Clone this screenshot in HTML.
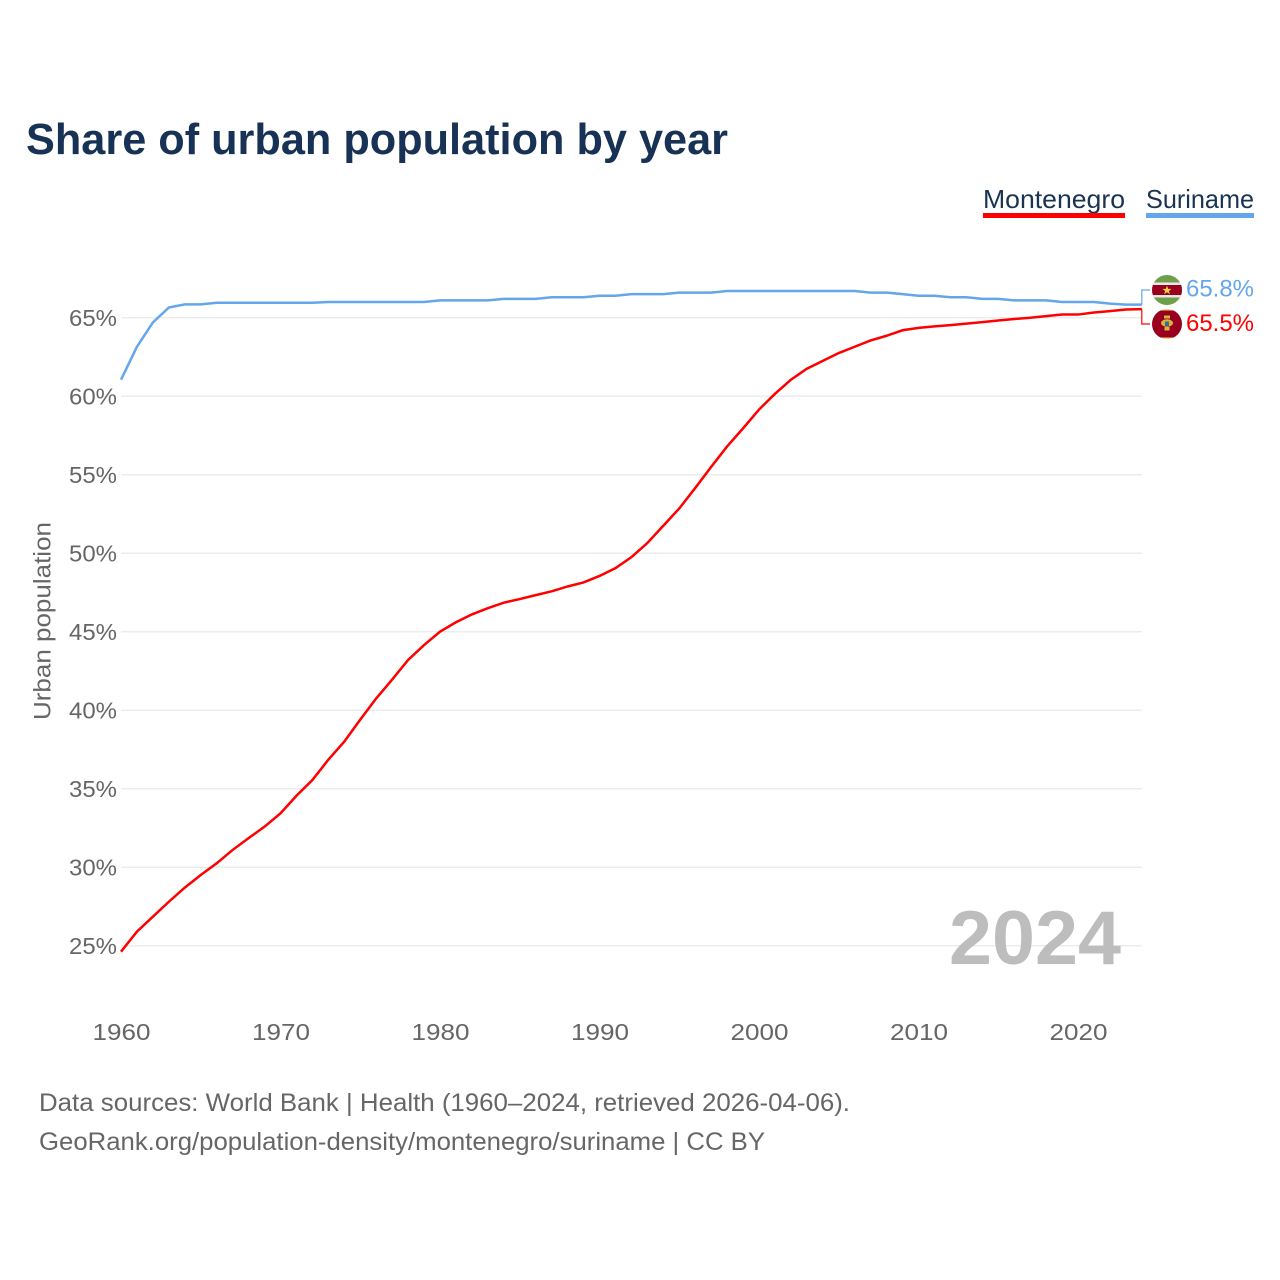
<!DOCTYPE html>
<html lang="en">
<head>
<meta charset="utf-8">
<title>Share of urban population by year</title>
<style>
html,body{margin:0;padding:0;background:#fff;}
svg{display:block;font-family:"Liberation Sans",sans-serif;}
.tick{font-size:23.5px;fill:#666;}
</style>
</head>
<body>
<svg id="chart" width="1280" height="1280" viewBox="0 0 1280 1280" xmlns="http://www.w3.org/2000/svg">
  <rect width="1280" height="1280" fill="#fff"/>
  <text x="26" y="154" font-size="43.500" font-weight="700" fill="#173254" textLength="702" lengthAdjust="spacingAndGlyphs">Share of urban population by year</text>

  <g>
    <text x="983" y="208" font-size="26" fill="#1a3353" textLength="142" lengthAdjust="spacingAndGlyphs">Montenegro</text>
    <rect x="983" y="213" width="142" height="5" fill="#ff0000"/>
  </g>
  <g>
    <text x="1146" y="208" font-size="26" fill="#1a3353" textLength="108" lengthAdjust="spacingAndGlyphs">Suriname</text>
    <rect x="1146" y="213" width="108" height="5" fill="#63a6ec"/>
  </g>

  <g id="grid"></g>
  <g id="yticks"></g>
  <g id="xticks"></g>
  <text transform="translate(50.500,720) rotate(-90)" font-size="24" fill="#666" textLength="198" lengthAdjust="spacingAndGlyphs">Urban population</text>

  <text x="949" y="964" font-size="76" font-weight="700" fill="#bdbdbd" textLength="172" lengthAdjust="spacingAndGlyphs">2024</text>

  <g id="series"></g>

  <path id="conn-sr" fill="none" stroke="#63a6ec" stroke-width="1.2"/>
  <path id="conn-me" fill="none" stroke="#ff0000" stroke-width="1.2"/>

  <defs>
    <clipPath id="clip-sr"><circle cx="1167" cy="290" r="15"/></clipPath>
    <clipPath id="clip-me"><circle cx="1167" cy="324" r="15"/></clipPath>
  </defs>
  <g clip-path="url(#clip-sr)">
    <rect x="1152" y="275" width="30" height="30" fill="#6f9f4a"/>
    <rect x="1152" y="282.500" width="30" height="15" fill="#e8e8e8"/>
    <rect x="1152" y="285" width="30" height="10" fill="#99001f"/>
    <polygon points="1167,285.600 1168.200,288.900 1171.700,288.900 1168.900,291 1169.900,294.300 1167,292.300 1164.100,294.300 1165.100,291 1162.300,288.900 1165.800,288.900" fill="#f2cf4a"/>
  </g>
  <g clip-path="url(#clip-me)">
    <rect x="1152" y="309" width="30" height="30" fill="#f2cf6a"/>
    <rect x="1152" y="310.500" width="30" height="27" fill="#99001f"/>
    <rect x="1164" y="315.500" width="6" height="3" fill="#d8b23c"/>
    <ellipse cx="1167" cy="323" rx="6" ry="3.800" fill="#d8b23c"/>
    <rect x="1165" y="321.500" width="4" height="4.500" fill="#2f6f9f"/>
    <rect x="1164.500" y="327" width="5" height="3.500" fill="#d8b23c"/>
  </g>
  <text x="1186" y="296.500" font-size="24.500" fill="#63a6ec" textLength="68" lengthAdjust="spacingAndGlyphs">65.8%</text>
  <text x="1186" y="331" font-size="24.500" fill="#ff0000" textLength="68" lengthAdjust="spacingAndGlyphs">65.5%</text>

  <text x="39" y="1111" font-size="25" fill="#666" textLength="811" lengthAdjust="spacingAndGlyphs">Data sources: World Bank | Health (1960–2024, retrieved 2026-04-06).</text>
  <text x="39" y="1150" font-size="25" fill="#666" textLength="726" lengthAdjust="spacingAndGlyphs">GeoRank.org/population-density/montenegro/suriname | CC BY</text>
</svg>
<script>
const years = [1960,1961,1962,1963,1964,1965,1966,1967,1968,1969,1970,1971,1972,1973,1974,1975,1976,1977,1978,1979,1980,1981,1982,1983,1984,1985,1986,1987,1988,1989,1990,1991,1992,1993,1994,1995,1996,1997,1998,1999,2000,2001,2002,2003,2004,2005,2006,2007,2008,2009,2010,2011,2012,2013,2014,2015,2016,2017,2018,2019,2020,2021,2022,2023,2024];
const surinameValues = [61.05,63.15,64.7,65.65,65.85,65.85,65.95,65.95,65.95,65.95,65.95,65.95,65.95,66.0,66.0,66.0,66.0,66.0,66.0,66.0,66.1,66.1,66.1,66.1,66.2,66.2,66.2,66.3,66.3,66.3,66.4,66.4,66.5,66.5,66.5,66.6,66.6,66.6,66.7,66.7,66.7,66.7,66.7,66.7,66.7,66.7,66.7,66.6,66.6,66.5,66.4,66.4,66.3,66.3,66.2,66.2,66.1,66.1,66.1,66.0,66.0,66.0,65.9,65.83,65.83];
const montenegroValues = [24.62,25.9,26.85,27.8,28.7,29.5,30.25,31.1,31.85,32.58,33.43,34.55,35.55,36.85,38.0,39.4,40.75,41.95,43.2,44.15,45.0,45.6,46.1,46.5,46.85,47.08,47.33,47.57,47.88,48.14,48.55,49.05,49.75,50.65,51.75,52.85,54.15,55.5,56.8,57.95,59.15,60.15,61.05,61.75,62.25,62.75,63.15,63.55,63.85,64.2,64.35,64.45,64.53,64.62,64.72,64.82,64.92,65.0,65.1,65.2,65.2,65.33,65.42,65.52,65.55];
const yTickValues = [25,30,35,40,45,50,55,60,65];
const xTickValues = [1960,1970,1980,1990,2000,2010,2020];

const NS = 'http://www.w3.org/2000/svg';
function xScale(year){ return 121 + (year - 1960) * 15.95; }
function yScale(pct){ return 945.7 - (pct - 25) * 15.7; }

const gridGroup = document.getElementById('grid');
const yGroup = document.getElementById('yticks');
const xGroup = document.getElementById('xticks');
const seriesGroup = document.getElementById('series');
const plotRight = xScale(years[years.length - 1]);

yTickValues.forEach(function(v){
  const line = document.createElementNS(NS, 'line');
  
  
  line.setAttribute('x1', 121);
  line.setAttribute('x2', plotRight);
  line.setAttribute('y1', yScale(v));
  line.setAttribute('y2', yScale(v));
  line.setAttribute('stroke', '#ececec');
  line.setAttribute('stroke-width', '1.5');
  gridGroup.appendChild(line);

  const t = document.createElementNS(NS, 'text');
  
  
  t.setAttribute('class', 'tick');
  t.setAttribute('x', 69);
  t.setAttribute('y', yScale(v) + 8.3);
  t.setAttribute('textLength', 48);
  t.setAttribute('lengthAdjust', 'spacingAndGlyphs');
  t.textContent = v + '%';
  yGroup.appendChild(t);
});

xTickValues.forEach(function(v){
  const t = document.createElementNS(NS, 'text');
  
  
  t.setAttribute('class', 'tick');
  t.setAttribute('x', xScale(v) - 28.5);
  t.setAttribute('y', 1040);
  t.setAttribute('textLength', 58);
  t.setAttribute('lengthAdjust', 'spacingAndGlyphs');
  t.textContent = v;
  xGroup.appendChild(t);
});

function linePath(values){
  return values.map(function(v, i){
    return (i ? 'L' : 'M') + xScale(years[i]).toFixed(2) + ' ' + yScale(v).toFixed(2);
  }).join(' ');
}

const surinameLine = document.createElementNS(NS, 'path');


surinameLine.setAttribute('d', linePath(surinameValues));
surinameLine.setAttribute('fill', 'none');
surinameLine.setAttribute('stroke', '#63a6ec');
surinameLine.setAttribute('stroke-width', '2.5');
seriesGroup.appendChild(surinameLine);

const montenegroLine = document.createElementNS(NS, 'path');


montenegroLine.setAttribute('d', linePath(montenegroValues));
montenegroLine.setAttribute('fill', 'none');
montenegroLine.setAttribute('stroke', '#ff0000');
montenegroLine.setAttribute('stroke-width', '2.5');
seriesGroup.appendChild(montenegroLine);

const srEnd = yScale(surinameValues[surinameValues.length - 1]);
const meEnd = yScale(montenegroValues[montenegroValues.length - 1]);
document.getElementById('conn-sr').setAttribute('d', 'M' + plotRight.toFixed(1) + ' ' + srEnd.toFixed(1) + ' V290 H1150');
document.getElementById('conn-me').setAttribute('d', 'M' + plotRight.toFixed(1) + ' ' + meEnd.toFixed(1) + ' V324 H1150');
</script>
</body>
</html>
